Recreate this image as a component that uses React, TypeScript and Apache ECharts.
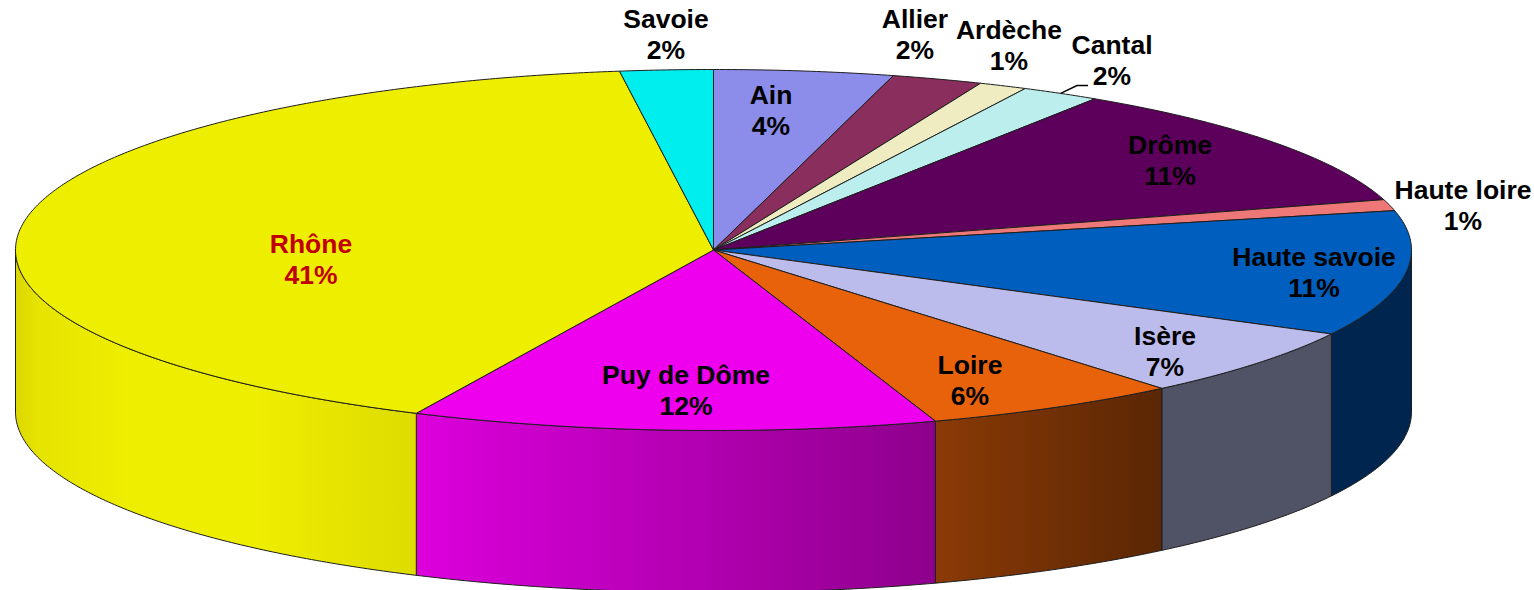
import React, { useEffect, useRef } from "react";
import * as echarts from "echarts";

const departments = ["Ain", "Allier", "Ardèche", "Cantal", "Drôme", "Haute loire", "Haute savoie", "Isère", "Loire", "Puy de Dôme", "Rhône", "Savoie"];
const shares = [4.15, 2.1, 1.12, 1.83, 11.3, 1.0, 11.2, 6.2, 5.95, 12.15, 40.85, 2.15];
const shareLabels = ["4%", "2%", "1%", "2%", "11%", "1%", "11%", "7%", "6%", "12%", "41%", "2%"];
const topColors = ["#8C8CEB", "#8A2E5E", "#EEECC0", "#BCEEEE", "#5C005C", "#EE7878", "#005EBE", "#BCBCEC", "#E8620C", "#EE00EE", "#EEEE00", "#00EEEE"];
const sideStops: Record<string, [number, string][]> = {
  "Haute savoie": [[0, "#00264F"], [1, "#00264F"]],
  "Isère": [[0, "#505266"], [1, "#505266"]],
  "Loire": [[0, "#8A3A06"], [1, "#5A2604"]],
  "Puy de Dôme": [[0, "#DC00DC"], [1, "#8E008C"]],
  "Rhône": [[0, "#DCD800"], [0.06, "#E6E400"], [0.28, "#EEEE00"], [0.6, "#EEEE00"], [0.8, "#E6E400"], [1, "#DEDC00"]],
};
const labelCentres: [number, number][] = [[771, 110], [915, 34], [1009, 45], [1112, 60], [1170, 160], [1463, 205], [1314, 272], [1165, 351], [970, 380], [686, 390], [311, 259], [666, 34]];
const labelColors = departments.map((d) => (d === "Rhône" ? "#C00000" : "#000000"));

const CX = 713.5, CY = 250, RX = 698, RY = 180.5, DEPTH = 162;
const total = shares.reduce((a, b) => a + b, 0);
const bounds = shares.reduce<number[]>((acc, v) => [...acc, acc[acc.length - 1] + (v / total) * 360], [0]);
const pt = (deg: number, dy = 0): number[] => {
  const r = (deg * Math.PI) / 180;
  return [CX + RX * Math.sin(r), CY - RY * Math.cos(r) + dy];
};
const arc = (a: number, b: number, dy = 0): number[][] => {
  const n = Math.max(2, Math.ceil((b - a) / 0.5));
  const out: number[][] = [];
  for (let i = 0; i <= n; i++) out.push(pt(a + ((b - a) * i) / n, dy));
  return out;
};
const EDGE = "#1E1E1E";

export default function App() {
  const ref = useRef<HTMLDivElement>(null);
  useEffect(() => {
    document.body.style.margin = "0";
    const chart = echarts.init(ref.current!, undefined, { renderer: "svg" });
    const data = shares.map((v, i) => ({ name: departments[i], value: v }));
    chart.setOption({
      animation: false,
      backgroundColor: "#ffffff",
      series: [
        {
          type: "custom",
          coordinateSystem: "none",
          silent: true,
          z: 1,
          data,
          renderItem: (params: any) => {
            const i = params.dataIndex;
            const a = Math.max(bounds[i], 90), b = Math.min(bounds[i + 1], 270);
            if (b <= a) return { type: "group", children: [] };
            const upper = arc(a, b);
            const lower = arc(a, b, DEPTH);
            const xs = upper.map((p) => p[0]);
            const x0 = Math.min(...xs), x1 = Math.max(...xs);
            const stops = sideStops[departments[i]];
            const fill = new echarts.graphic.LinearGradient(
              x0, 0, x1, 0,
              stops.map(([offset, color]) => ({ offset, color })),
              true
            );
            return {
              type: "polygon",
              shape: { points: [...upper, ...lower.reverse()] },
              style: { fill, stroke: EDGE, lineWidth: 1, lineJoin: "round" },
            };
          },
        },
        {
          type: "custom",
          coordinateSystem: "none",
          silent: true,
          z: 2,
          data,
          renderItem: (params: any) => {
            const i = params.dataIndex;
            return {
              type: "polygon",
              shape: { points: [[CX, CY], ...arc(bounds[i], bounds[i + 1])] },
              style: { fill: topColors[i], stroke: EDGE, lineWidth: 1, lineJoin: "round" },
            };
          },
        },
        {
          type: "custom",
          coordinateSystem: "none",
          silent: true,
          z: 3,
          data,
          renderItem: (params: any) => {
            const i = params.dataIndex;
            const [lx, ly] = labelCentres[i];
            const children: any[] = [
              {
                type: "text",
                x: lx,
                y: ly,
                style: {
                  text: `${departments[i]}\n${shareLabels[i]}`,
                  fill: labelColors[i],
                  font: 'bold 26.5px "Liberation Sans", Arial, sans-serif',
                  lineHeight: 31,
                  align: "center",
                  verticalAlign: "middle",
                },
              },
            ];
            if (departments[i] === "Cantal") {
              const start = pt((bounds[i] + bounds[i + 1]) / 2);
              children.push({
                type: "polyline",
                shape: { points: [start, [lx - 35, ly + 25.5], [lx - 24, ly + 25.5]] },
                style: { fill: "none", stroke: "#000000", lineWidth: 1.5 },
              });
            }
            return { type: "group", children };
          },
        },
      ],
    });
    return () => chart.dispose();
  }, []);
  return <div ref={ref} style={{ position: "absolute", left: 0, top: 0, width: 1534, height: 590 }} />;
}
